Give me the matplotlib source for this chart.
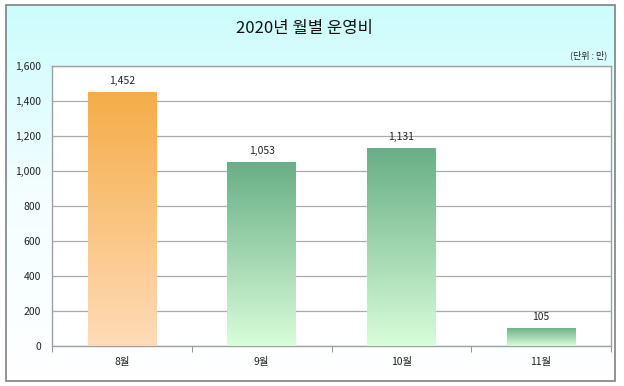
import numpy as np
import matplotlib
matplotlib.use("Agg")
import matplotlib.pyplot as plt
from matplotlib.colors import LinearSegmentedColormap
from matplotlib.patches import Rectangle

plt.rcParams['font.family'] = ['Noto Sans CJK KR', 'DejaVu Sans']

months = ['8월', '9월', '10월', '11월']
costs = [1452, 1053, 1131, 105]
yticks = [0, 200, 400, 600, 800, 1000, 1200, 1400, 1600]

fig = plt.figure(figsize=(6.24, 3.86), dpi=100)
fig.patch.set_facecolor('white')

# background inside the frame: cyan -> white gradient
bg = fig.add_axes([6/624, 5/386, 609/624, 376/386], zorder=-10)
bg.axis('off')
grad = np.linspace(0, 1, 256).reshape(-1, 1)
bg_cmap = LinearSegmentedColormap.from_list('bg', ['#ccfcfc', '#f4feff', '#ffffff'])
bg.imshow(grad, aspect='auto', cmap=bg_cmap, extent=[0, 1, 0, 1], origin='upper')
bg.set_xlim(0, 1)
bg.set_ylim(0, 1)
# outer frame
fig.patches.append(Rectangle((6/624, 5/386), 609/624, 376/386, transform=fig.transFigure,
                             fill=False, edgecolor='#808080', linewidth=1.2))

ax = fig.add_axes([52/624, 1 - 346/386, 559/624, 280/386])
ax.set_facecolor('white')

x = np.arange(len(months))
bars = ax.bar(x, costs, width=0.49, color='none', edgecolor='none', zorder=3)

orange = LinearSegmentedColormap.from_list('or', ['#ffdbb8', '#f4ad48'])
green = LinearSegmentedColormap.from_list('gr', ['#d9fdd9', '#68ae86'])
for i, b in enumerate(bars):
    cmap = orange if i == 0 else green
    x0, w, h = b.get_x(), b.get_width(), b.get_height()
    im = ax.imshow(grad[::-1], aspect='auto', cmap=cmap, extent=[x0, x0 + w, 0, h],
                   origin='upper', zorder=3)
    im.set_clip_path(b)
    ax.text(x0 + w / 2, h + 35, f'{costs[i]:,}', ha='center', va='bottom',
            fontsize=7.5, color='#222222', zorder=4)

ax.set_xlim(-0.5, len(months) - 0.5)
ax.set_ylim(0, 1600)
ax.set_yticks(yticks)
ax.set_yticklabels([f'{v:,}' for v in yticks], fontsize=7.5, color='#222222')
ax.yaxis.grid(True, color='#ababab', linewidth=0.9, zorder=1)
ax.set_axisbelow(True)
ax.tick_params(axis='y', length=0, pad=8)

ax.set_xticks(x)
ax.set_xticklabels(months, fontsize=7.5, color='#222222')
ax.set_xticks(np.arange(len(months) + 1) - 0.5, minor=True)
ax.tick_params(axis='x', which='major', length=0, pad=8)
ax.tick_params(axis='x', which='minor', length=4, color='#808080', direction='out')

for s in ax.spines.values():
    s.set_color('#a0a0a0')
    s.set_linewidth(1.0)

fig.text(305/624, 1 - 28/386, '2020년 월별 운영비', ha='center', va='center', fontsize=12, color='#111111')
fig.text(607/624, 1 - 55/386, '(단위 : 만)', ha='right', va='center', fontsize=6.5, color='#222222')

fig.savefig('out.png', dpi=100)
